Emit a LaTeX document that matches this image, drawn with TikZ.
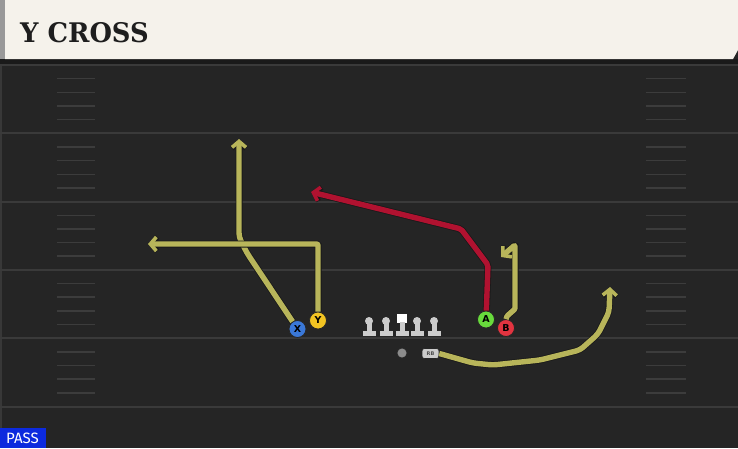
\documentclass[tikz,border=0pt]{standalone}
\usepackage{fontspec}
\setmainfont{DejaVu Serif}
\newfontfamily\markfont{DejaVu Sans}
\newfontfamily\passfont{Fira Sans}
\usetikzlibrary{arrows.meta}

\definecolor{fieldbg}{RGB}{37,37,37}
\definecolor{yardline}{RGB}{58,58,58}
\definecolor{hashline}{RGB}{60,60,60}
\definecolor{headerbg}{RGB}{245,242,235}
\definecolor{titleink}{RGB}{30,30,30}
\definecolor{routeolive}{RGB}{184,181,90}
\definecolor{routered}{RGB}{176,18,48}
\definecolor{xblue}{RGB}{58,120,216}
\definecolor{yyellow}{RGB}{242,196,34}
\definecolor{agreen}{RGB}{104,218,60}
\definecolor{bred}{RGB}{226,52,64}
\definecolor{linegray}{RGB}{204,204,204}
\definecolor{passblue}{RGB}{12,42,222}

\tikzset{
  player/.style={circle,draw=black!85,line width=0.8pt,minimum size=17pt,inner sep=0pt,
    font=\markfont\bfseries\fontsize{9.5}{9.5}\selectfont,text=black},
  routeline/.style={line width=5.4pt,line join=round,rounded corners=4pt,
    -{Straight Barb[length=6pt,width=14pt,line width=-1.8pt 1]},
    preaction={draw=black!90,line width=7pt}},
  yardstripe/.style={yardline,line width=2pt},
  hashmark/.style={hashline,line width=1.5pt}
}

\begin{document}
\begin{tikzpicture}[x=1pt,y=-1pt]
  \useasboundingbox (0,0) rectangle (738,448);
  % field
  \fill[fieldbg] (0,0) rectangle (738,448);
  \fill[black!30!fieldbg] (0,59) rectangle (738,64);
  \fill[black!78!white] (0,64) rectangle (2,448);
  \foreach \k in {0,...,5}
    \draw[yardstripe] (0,65+68.3*\k) -- (738,65+68.3*\k);
  \foreach \k in {0,...,4}
    \foreach \j in {1,...,4}{
      \draw[hashmark] (57,65+68.3*\k+13.66*\j) -- (95,65+68.3*\k+13.66*\j);
      \draw[hashmark] (646,65+68.3*\k+13.66*\j) -- (686,65+68.3*\k+13.66*\j);
    }

  % header
  \fill[black!40] (0,0) rectangle (5,59);
  \fill[headerbg] (5,0) -- (738,0) -- (738,50) -- (733,59) -- (5,59) -- cycle;
  \node[anchor=base west,inner sep=0pt,text=titleink,font=\bfseries\fontsize{27}{27}\selectfont]
    (title) at (20,42) {\scalebox{0.955}[1]{Y CROSS}};

  % line
  \foreach \x in {369,386,417,434}{
    \fill[black!85] (\x,321) circle (4.8);
    \fill[black!85] (\x-3.3,321) rectangle (\x+3.3,333);
    \fill[black!85] (\x-7.3,330.2) rectangle (\x+7.3,336.8);
  }
  \fill[black!85] (396.2,313.2) rectangle (407.8,323.8);
  \fill[black!85] (398.7,322) rectangle (405.3,333);
  \fill[black!85] (394.7,330.2) rectangle (409.3,336.8);
  \foreach \x in {369,386,417,434}{
    \fill[linegray] (\x,321) circle (4);
    \fill[linegray] (\x-2.5,321) rectangle (\x+2.5,333);
    \fill[linegray] (\x-6.5,331) rectangle (\x+6.5,336);
  }
  \fill[white] (397,314) rectangle (407,323);
  \fill[linegray] (399.5,322) rectangle (404.5,333);
  \fill[linegray] (395.5,331) rectangle (408.5,336);

  % backfield
  \node[circle,fill=black!45,draw=black!85,line width=0.6pt,minimum size=10pt,inner sep=0pt] (QB) at (402,353) {};
  \node[rounded corners=2.5pt,fill=linegray,draw=black!85,line width=0.6pt,minimum width=17pt,minimum height=10pt,
    inner sep=0pt,font=\markfont\bfseries\fontsize{5}{5}\selectfont,text=black!70] (RB) at (430.5,353.5) {RB};

  % receivers
  \node[player,fill=xblue] (X) at (297.5,329) {X};
  \node[player,fill=yyellow] (Y) at (318,320.5) {Y};
  \node[player,fill=agreen] (A) at (486,319.5) {A};
  \node[player,fill=bred] (B) at (506,328) {B};

  \coordinate (Xend) at (239,139);
  \coordinate (Yend) at (148,244);
  \coordinate (Aend) at (311,192);
  \coordinate (Bend) at (501,257);
  \coordinate (RBend) at (610,287);

  % routes
  \draw[routeline,routeolive] (X) -- (247,253) -- (239,237) -- (Xend);
  \draw[routeline,routeolive,rounded corners=1pt] (Y) -- (318,244) -- (Yend);
  \draw[routeline,routered,rounded corners=2pt] (A) -- (488,265) -- (461,229) -- (Aend);
  \draw[routeline,routeolive,rounded corners=1pt] (B.north) -- (507,316) -- (515,309) -- (515,245) -- (Bend);
  \draw[routeline,routeolive] (RB.east) -- (473,363) -- (493,365) -- (540,360) -- (580,350)
    -- (598,334) -- (609,312) -- (RBend);

  % play type
  \fill[passblue] (0,428) rectangle (46,448);
  \node[text=white,inner sep=0pt,font=\passfont\fontsize{15}{15}\selectfont] (pass) at (22.5,438.5) {PASS};
\end{tikzpicture}
\end{document}
